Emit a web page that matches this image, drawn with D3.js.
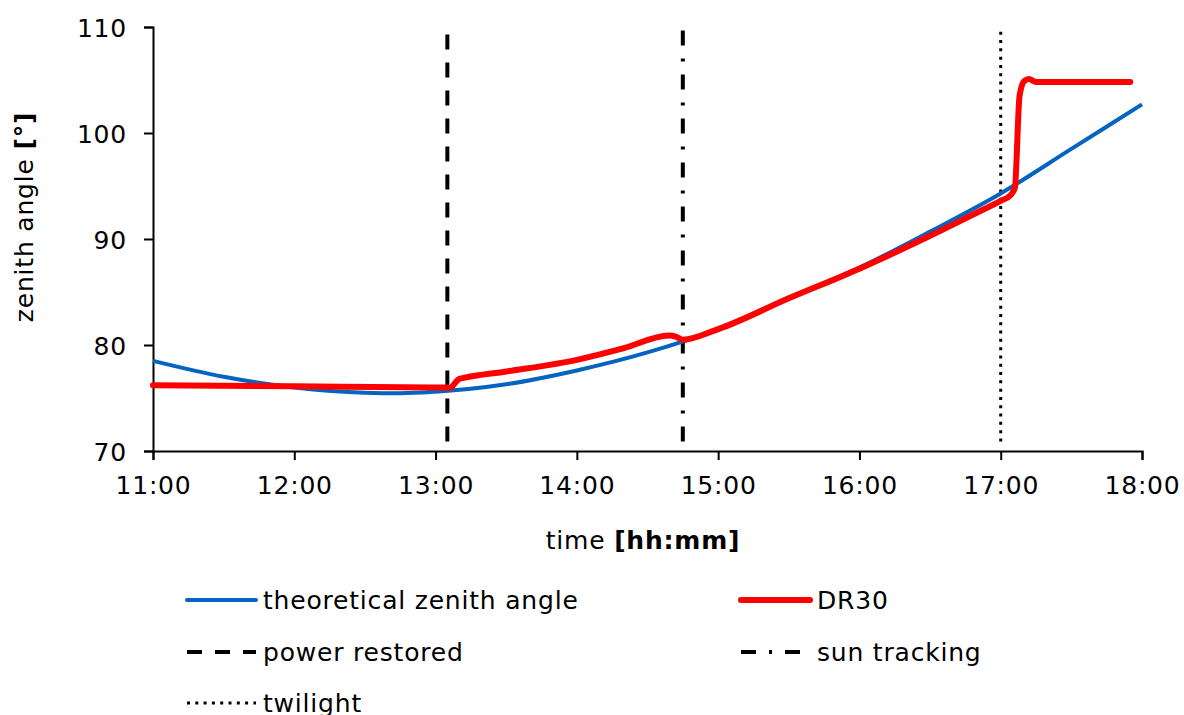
<!DOCTYPE html>
<html>
<head>
<meta charset="utf-8">
<script src="https://cdn.jsdelivr.net/npm/d3@7"></script>
<style>
  body { margin: 0; background: #fff; }
  text { font-family: "DejaVu Sans", Verdana, sans-serif; fill: #000; letter-spacing: 0.8px; }
</style>
</head>
<body>
<script>
// theoretical zenith angle
var theoryTimes = ["11:00", "11:30", "12:00", "12:30", "12:45", "13:00", "13:30", "14:00", "14:30",
  "15:00", "15:30", "16:00", "16:30", "17:00", "17:30", "18:00"];
var theoryAngles = [78.5, 77.0, 76.0, 75.5, 75.45, 75.6, 76.3, 77.6, 79.3,
  81.5, 84.4, 87.3, 90.7, 94.3, 98.5, 102.7];

// DR30 measured angle
var dr30Times = ["11:00", "12:00", "13:00", "13:04", "13:06", "13:10", "13:12", "13:30", "14:00", "14:20",
  "14:39", "14:42", "14:45", "15:00", "15:30", "16:00", "16:30", "16:50", "17:00", "17:04",
  "17:06", "17:08", "17:10", "17:12", "17:15", "17:55"];
var dr30Angles = [76.2, 76.1, 76.0, 76.0, 75.95, 76.8, 76.9, 77.5, 78.6, 79.7,
  80.9, 80.8, 80.5, 81.5, 84.4, 87.2, 90.3, 92.5, 93.6, 94.1,
  94.8, 103.5, 104.9, 105.1, 104.8, 104.8];

// event markers
var powerTime = "13:05";
var trackingTime = "14:45";
var twilightTime = "17:00";
var markerAngles = [70.9, 109.7];

var xTicks = ["11:00", "12:00", "13:00", "14:00", "15:00", "16:00", "17:00", "18:00"];
var yTicks = [70, 80, 90, 100, 110];

var svgWidth = 1184, svgHeight = 715;
var margin = { top: 27, left: 153 };
var chartWidth = 989, chartHeight = 424;
var fontSize = 25;

var parseTime = d3.timeParse("%H:%M");

var svg = d3.select("body").append("svg")
  .attr("width", svgWidth)
  .attr("height", svgHeight);

var chartGroup = svg.append("g")
  .attr("transform", `translate(${margin.left}, ${margin.top})`);

var xScale = d3.scaleTime()
  .domain([parseTime("11:00"), parseTime("18:00")])
  .range([0, chartWidth]);
var yScale = d3.scaleLinear()
  .domain([70, 110])
  .range([chartHeight, 0]);

var bottomAxis = d3.axisBottom(xScale)
  .tickValues(xTicks.map(parseTime))
  .tickFormat(d3.timeFormat("%H:%M"))
  .tickSize(9).tickPadding(16);
var leftAxis = d3.axisLeft(yScale)
  .tickValues(yTicks)
  .tickSize(9).tickPadding(17);

var xAxis = chartGroup.append("g")
  .attr("transform", `translate(0, ${chartHeight})`)
  .call(bottomAxis);
var yAxis = chartGroup.append("g").call(leftAxis);

[xAxis, yAxis].forEach(function(ax) {
  ax.select(".domain").attr("stroke", "#000").attr("stroke-width", 2);
  ax.selectAll(".tick line").attr("stroke", "#000").attr("stroke-width", 2);
  ax.selectAll(".tick text").attr("font-size", fontSize)
    .attr("font-family", "DejaVu Sans, Verdana, sans-serif").attr("fill", "#000");
});
yAxis.selectAll(".tick text").attr("dy", "0.36em");

// lines
var line = d3.line()
  .x(d => xScale(d.t))
  .y(d => yScale(d.v))
  .curve(d3.curveMonotoneX);

var theoryData = theoryTimes.map((t, i) => ({ t: parseTime(t), v: theoryAngles[i] }));
var dr30Data = dr30Times.map((t, i) => ({ t: parseTime(t), v: dr30Angles[i] }));

var markerLine = d3.line()
  .x(d => xScale(d.t))
  .y(d => yScale(d.v));

function markerData(t) {
  return markerAngles.map(v => ({ t: parseTime(t), v: v }));
}

var styles = {
  power: { stroke: "#000", width: 4, dash: "15,13", cap: "butt" },
  tracking: { stroke: "#000", width: 4, dash: "15,13,3,13", cap: "butt" },
  twilight: { stroke: "#000", width: 3, dash: "3,5.3", cap: "butt" }
};

function drawMarker(t, s) {
  chartGroup.append("path")
    .datum(markerData(t))
    .attr("d", markerLine)
    .attr("fill", "none")
    .attr("stroke", s.stroke)
    .attr("stroke-width", s.width)
    .attr("stroke-dasharray", s.dash)
    .attr("stroke-linecap", s.cap);
}
drawMarker(powerTime, styles.power);
drawMarker(trackingTime, styles.tracking);
drawMarker(twilightTime, styles.twilight);

chartGroup.append("path")
  .datum(theoryData)
  .attr("d", line)
  .attr("fill", "none")
  .attr("stroke", "#0563c1")
  .attr("stroke-width", 4);

chartGroup.append("path")
  .datum(dr30Data)
  .attr("d", line)
  .attr("fill", "none")
  .attr("stroke", "#ff0000")
  .attr("stroke-width", 6)
  .attr("stroke-linejoin", "round")
  .attr("stroke-linecap", "round");

// axis titles
var xTitle = svg.append("text")
  .attr("x", 643)
  .attr("y", 549)
  .attr("text-anchor", "middle")
  .attr("font-size", fontSize);
xTitle.append("tspan").text("time ");
xTitle.append("tspan").attr("font-weight", "bold").text("[hh:mm]");

var yTitle = svg.append("text")
  .attr("transform", "translate(33, 217) rotate(-90)")
  .attr("text-anchor", "middle")
  .attr("font-size", fontSize);
yTitle.append("tspan").text("zenith angle ");
yTitle.append("tspan").attr("font-weight", "bold").text("[°]");

// legend
var legendItems = [
  { label: "theoretical zenith angle", x: 187, y: 600, stroke: "#0563c1", width: 4, dash: null, cap: "round" },
  { label: "DR30", x: 741, y: 600, stroke: "#ff0000", width: 6, dash: null, cap: "round" },
  { label: "power restored", x: 187, y: 652, stroke: "#000", width: 4, dash: "15,13", cap: "butt" },
  { label: "sun tracking", x: 741, y: 652, stroke: "#000", width: 4, dash: "15,13,3,13", cap: "butt" },
  { label: "twilight", x: 187, y: 703, stroke: "#000", width: 3, dash: "3,5.3", cap: "butt" }
];

var legend = svg.append("g");
legendItems.forEach(function(d) {
  legend.append("line")
    .attr("x1", d.x).attr("x2", d.x + 69)
    .attr("y1", d.y).attr("y2", d.y)
    .attr("stroke", d.stroke)
    .attr("stroke-width", d.width)
    .attr("stroke-dasharray", d.dash)
    .attr("stroke-linecap", d.cap);
  legend.append("text")
    .attr("x", d.x + 76)
    .attr("y", d.y + 9)
    .attr("font-size", fontSize)
    .text(d.label);
});
</script>
</body>
</html>
